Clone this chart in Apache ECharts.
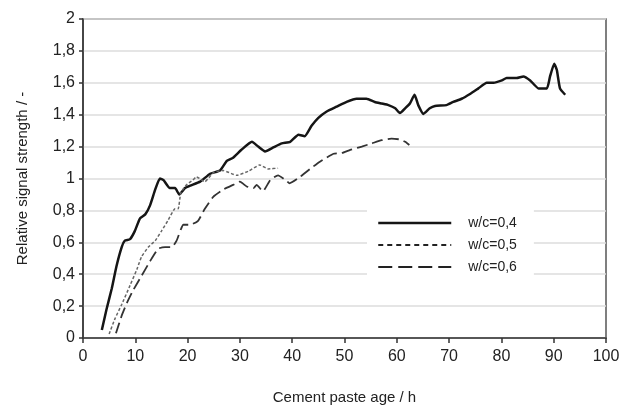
<!DOCTYPE html>
<html>
<head>
<meta charset="utf-8">
<script src="https://cdn.jsdelivr.net/npm/echarts@6/dist/echarts.min.js"></script>
<style>html,body{margin:0;padding:0;background:#fff;}#c{width:625px;height:410px;}</style>
</head>
<body>
<div id="c"></div>
<script>
var seriesNames = ['w/c=0,4', 'w/c=0,5', 'w/c=0,6'];
var xTicks = [0,10,20,30,40,50,60,70,80,90,100];
var yTicks = [0,0.2,0.4,0.6,0.8,1,1.2,1.4,1.6,1.8,2];

var x04 = [3.6,4.5,5.5,6.4,7.4,8.0,9.0,9.9,10.9,11.9,12.8,13.8,14.7,15.4,16.6,17.6,18.4,19.5,20.5,22.4,24.3,26.2,27.5,28.7,30.3,32.3,33.5,34.8,36.4,38.0,39.6,41.2,42.4,43.7,45.0,46.6,48.5,50.4,52.3,54.2,55.8,57.1,58.4,59.7,60.6,61.6,62.5,63.4,64.1,65.1,66.3,67.3,69.5,70.8,72.4,74.0,75.6,77.2,78.5,80.1,81.0,82.9,84.2,85.5,87.1,88.7,89.3,90.1,90.6,91.2,92.2];
var y04 = [0.05,0.18,0.31,0.45,0.57,0.61,0.62,0.67,0.75,0.775,0.83,0.93,1.0,0.99,0.94,0.94,0.90,0.94,0.955,0.98,1.03,1.05,1.11,1.13,1.18,1.23,1.20,1.17,1.195,1.22,1.23,1.275,1.265,1.33,1.38,1.42,1.45,1.48,1.50,1.50,1.48,1.47,1.46,1.44,1.41,1.44,1.47,1.525,1.46,1.405,1.44,1.455,1.46,1.48,1.50,1.53,1.565,1.60,1.60,1.615,1.63,1.63,1.64,1.615,1.565,1.565,1.64,1.72,1.68,1.565,1.525];

var x05 = [5.0,6.1,7.4,9.0,10.3,11.2,12.5,13.8,15.0,16.3,17.6,18.2,18.7,19.8,21.0,21.7,23.3,24.9,26.8,29.4,31.6,33.8,35.4,37.3];
var y05 = [0.025,0.12,0.21,0.33,0.43,0.51,0.57,0.61,0.67,0.74,0.81,0.81,0.91,0.96,0.99,1.01,0.98,1.035,1.05,1.02,1.045,1.085,1.06,1.065];

var x06 = [6.3,7.4,8.4,9.6,11.2,12.8,14.4,15.7,17.0,17.9,19.2,20.5,22.0,23.3,24.9,26.8,28.7,30.0,31.3,32.6,33.2,34.4,35.8,37.3,38.9,39.5,41.5,43.4,45.3,47.9,49.5,51.1,53.3,55.2,57.1,59.0,60.6,61.6,62.4];
var y06 = [0.03,0.14,0.22,0.30,0.39,0.48,0.56,0.57,0.57,0.61,0.71,0.71,0.735,0.81,0.885,0.93,0.96,0.98,0.95,0.94,0.96,0.92,0.99,1.02,0.985,0.97,1.01,1.06,1.105,1.155,1.16,1.18,1.20,1.22,1.24,1.25,1.245,1.23,1.21];

function pairs(xs, ys){ return xs.map(function(v,i){ return [v, ys[i]]; }); }

var chart = echarts.init(document.getElementById('c'), null, {renderer:'canvas'});
var fontFam = 'Liberation Sans, Arial, sans-serif';
chart.setOption({
  animation: false,
  backgroundColor: '#fff',
  grid: {left: 83, right: 19, top: 19, bottom: 71, show: true, borderColor: '#555', borderWidth: 1.5, backgroundColor: 'transparent'},
  legend: {
    orient: 'vertical', left: 367, top: 205,
    padding: [11, 17, 11, 10],
    backgroundColor: '#fff',
    itemWidth: 73, itemHeight: 14, itemGap: 8,
    data: [
      {name: seriesNames[0], lineStyle: {color: '#151515', width: 2.5, type: 'solid'}},
      {name: seriesNames[1], lineStyle: {color: '#222', width: 2, type: [5, 4]}},
      {name: seriesNames[2], lineStyle: {color: '#222', width: 2, type: [14, 6]}}
    ],
    itemStyle: {opacity: 0},
    textStyle: {fontFamily: fontFam, fontSize: 14, color: '#222', padding: [0,0,0,12]}
  },
  xAxis: {
    type: 'value', min: 0, max: 100, interval: 10,
    name: 'Cement paste age / h', nameLocation: 'middle', nameGap: 52,
    nameTextStyle: {fontFamily: fontFam, fontSize: 15, color: '#222'},
    axisLine: {onZero: false, lineStyle: {color: '#333', width: 1.5}},
    axisTick: {show: true, length: 5, lineStyle: {color: '#333', width: 1.5}},
    axisLabel: {fontFamily: fontFam, fontSize: 16, color: '#222', margin: 11,
      formatter: function(v){ return xTicks.indexOf(v) >= 0 ? String(v) : ''; }},
    splitLine: {show: false}
  },
  yAxis: {
    type: 'value', min: 0, max: 2, interval: 0.2,
    name: 'Relative signal strength / -', nameLocation: 'middle', nameGap: 53,
    nameTextStyle: {fontFamily: fontFam, fontSize: 15, color: '#222'},
    axisLine: {show: true, lineStyle: {color: '#333', width: 1.5}},
    axisTick: {show: true, length: 4, lineStyle: {color: '#333', width: 1.5}},
    axisLabel: {fontFamily: fontFam, fontSize: 16, color: '#222', margin: 8,
      formatter: function(v){ var r = Math.round(v*10)/10; return String(r).replace('.', ','); }},
    splitLine: {show: true, lineStyle: {color: '#dcdcdc', width: 1.5}}
  },
  series: [
    {name: seriesNames[0], type: 'line', data: pairs(x04, y04), showSymbol: false, symbol: 'none', smooth: 0.15,
     lineStyle: {color: '#151515', width: 2.5, type: 'solid'}, itemStyle: {color: '#151515'}},
    {name: seriesNames[1], type: 'line', data: pairs(x05, y05), showSymbol: false, symbol: 'none', smooth: 0.15,
     lineStyle: {color: '#666', width: 1.5, type: [3, 2]}, itemStyle: {color: '#333'}},
    {name: seriesNames[2], type: 'line', data: pairs(x06, y06), showSymbol: false, symbol: 'none', smooth: 0.15,
     lineStyle: {color: '#333', width: 1.8, type: [11, 5]}, itemStyle: {color: '#333'}}
  ]
});
</script>
</body>
</html>
